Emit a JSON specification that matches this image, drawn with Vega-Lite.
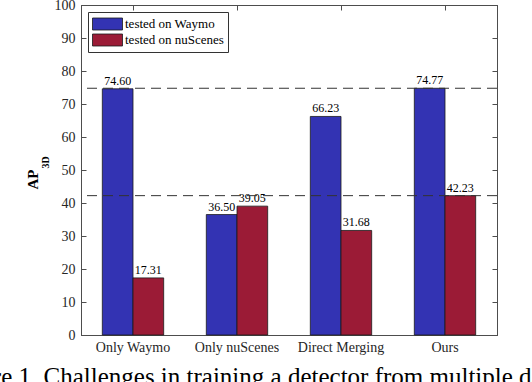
{
  "$schema": "https://vega.github.io/schema/vega-lite/v6.json",
  "width": 416,
  "height": 330,
  "autosize": {"type": "none"},
  "padding": {"left": 81, "top": 5, "right": 35, "bottom": 47},
  "config": {
    "font": "Liberation Serif",
    "view": {"stroke": "#4d4d4d", "strokeWidth": 1},
    "axis": {"labelFont": "Liberation Serif", "titleFont": "Liberation Serif", "labelColor": "#262626", "domainColor": "#4d4d4d", "tickColor": "#4d4d4d", "grid": false},
    "legend": {"labelFont": "Liberation Serif", "labelFontSize": 13},
    "text": {"font": "Liberation Serif"}
  },
  "title": {
    "text": "Figure 1. Challenges in training a detector from multiple datasets.",
    "orient": "bottom",
    "anchor": "start",
    "frame": "group",
    "font": "Liberation Serif",
    "fontSize": 25,
    "fontWeight": "normal",
    "color": "black",
    "dx": -134,
    "offset": 11
  },
  "data": {
    "values": [
      {"method": "Only Waymo", "dataset": "tested on Waymo", "ap": 74.60},
      {"method": "Only Waymo", "dataset": "tested on nuScenes", "ap": 17.31},
      {"method": "Only nuScenes", "dataset": "tested on Waymo", "ap": 36.50},
      {"method": "Only nuScenes", "dataset": "tested on nuScenes", "ap": 39.05},
      {"method": "Direct Merging", "dataset": "tested on Waymo", "ap": 66.23},
      {"method": "Direct Merging", "dataset": "tested on nuScenes", "ap": 31.68},
      {"method": "Ours", "dataset": "tested on Waymo", "ap": 74.77},
      {"method": "Ours", "dataset": "tested on nuScenes", "ap": 42.23}
    ]
  },
  "layer": [
    {
      "mark": {"type": "bar", "stroke": "#1a1a1a", "strokeWidth": 0.8},
      "encoding": {
        "x": {
          "field": "method", "type": "nominal",
          "sort": ["Only Waymo", "Only nuScenes", "Direct Merging", "Ours"],
          "scale": {"paddingInner": 0.41, "paddingOuter": 0.205},
          "axis": {"orient": "bottom", "title": null, "labelAngle": 0, "labelFontSize": 14, "labelPadding": 10, "tickSize": -5, "domainColor": "#4d4d4d"}
        },
        "xOffset": {
          "field": "dataset", "type": "nominal",
          "sort": ["tested on Waymo", "tested on nuScenes"],
          "scale": {"paddingInner": 0, "paddingOuter": 0}
        },
        "y": {
          "field": "ap", "type": "quantitative",
          "scale": {"domain": [0, 100], "nice": false},
          "axis": {"orient": "left", "values": [0,10,20,30,40,50,60,70,80,90,100], "labelFontSize": 14, "tickSize": -5, "labelPadding": 11,
                   "title": "AP", "titleFontSize": 15, "titleFontWeight": "bold", "titleColor": "black", "titleAngle": -90, "titleAlign": "center", "titleBaseline": "alphabetic", "titleX": -44, "titleY": 174}
        },
        "color": {
          "field": "dataset", "type": "nominal",
          "sort": ["tested on Waymo", "tested on nuScenes"],
          "scale": {"range": ["#3333b3", "#9b1b36"]},
          "legend": {
            "title": null, "orient": "top-left", "offset": 7,
            "symbolType": "M-2,-0.8H2V0.8H-2Z", "symbolSize": 225, "symbolOffset": 7.5,
            "symbolStrokeColor": "#1a1a1a", "symbolStrokeWidth": 0.8,
            "labelFont": "Liberation Serif", "labelFontSize": 13, "labelColor": "black", "labelOffset": 9.5,
            "rowPadding": 0, "padding": 4, "strokeColor": "#333", "fillColor": "white"
          }
        }
      }
    },
    {
      "mark": {"type": "text", "baseline": "bottom", "dy": -1, "fontSize": 12, "color": "black"},
      "encoding": {
        "x": {
          "field": "method", "type": "nominal",
          "sort": ["Only Waymo", "Only nuScenes", "Direct Merging", "Ours"],
          "axis": {"orient": "top", "title": null, "labels": false, "tickSize": -5, "domainColor": "#4d4d4d"}
        },
        "xOffset": {"field": "dataset", "type": "nominal", "sort": ["tested on Waymo", "tested on nuScenes"]},
        "y": {
          "field": "ap", "type": "quantitative",
          "axis": {"orient": "right", "values": [0,10,20,30,40,50,60,70,80,90,100], "labels": false, "tickSize": -5,
                   "title": "3D", "titleFontSize": 10, "titleFontWeight": "bold", "titleColor": "black", "titleAngle": -90, "titleAlign": "center", "titleBaseline": "alphabetic", "titleX": -449, "titleY": 157}
        },
        "text": {"field": "ap", "type": "quantitative", "format": ".2f"}
      }
    },
    {
      "data": {"values": [{"ref": 74.77}, {"ref": 42.23}]},
      "mark": {"type": "rule", "strokeDash": [10, 6], "color": "#333", "strokeWidth": 1},
      "encoding": {
        "y": {"field": "ref", "type": "quantitative", "axis": null}
      }
    }
  ],
  "resolve": {"axis": {"x": "independent", "y": "independent"}}
}
